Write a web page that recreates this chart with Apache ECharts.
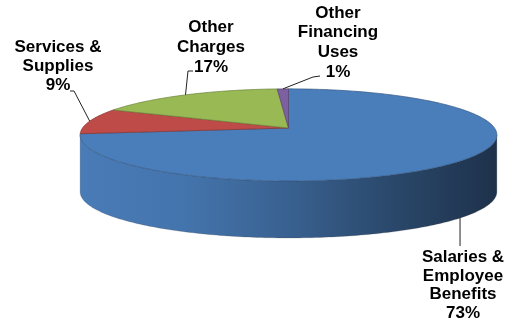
<!DOCTYPE html>
<html>
<head>
<meta charset="utf-8">
<script src="https://cdn.jsdelivr.net/npm/echarts@6/dist/echarts.min.js"></script>
<style>
  html, body { margin: 0; padding: 0; background: #fff; }
  #chart { width: 511px; height: 324px; }
</style>
</head>
<body>
<div id="chart"></div>
<script>
// Budget share by expenditure category (clockwise from 12 o'clock)
const categories = ['Salaries &\nEmployee\nBenefits', 'Services &\nSupplies', 'Other\nCharges', 'Other\nFinancing\nUses'];
const shares = [73, 9, 17, 1];
const colors = ['#4A7EBB', '#BE4B48', '#98B954', '#7D60A0'];

// Disc layout (pixels); persp makes the near edge of the disc look larger
const disc = { cx: 288.5, cy: 128, rx: 206, ry: 45, depth: 57, persp: 0.15 };
// Label text centre and the point where its leader line starts / bends
const labelLayout = [
  { x: 463, y: 285.5, lineHeight: 18.5, start: [null, 246], vertical: true },
  { x: 58, y: 66, lineHeight: 19, start: [70, 91], elbow: [74, 91] },
  { x: 211, y: 47, lineHeight: 20, start: [193, 71], elbow: [188, 71] },
  { x: 338, y: 42.5, lineHeight: 19.7, start: [320, 76], elbow: [313, 77] }
];

const total = shares.reduce((a, b) => a + b, 0);
const startAngles = [];
let acc = 0;
shares.forEach(v => { startAngles.push(acc / total * 360); acc += v; });

// Project a rim point (angle clockwise from top) of the tilted disc
function pt(deg, dy) {
  const r = deg * Math.PI / 180;
  const x = Math.sin(r), z = -Math.cos(r);
  const w = 1 - disc.persp * z;
  return [disc.cx + disc.rx * x / w, disc.cy + disc.ry * z / w + (dy || 0)];
}
function arc(a0, a1, dy) {
  const pts = [];
  const n = Math.max(2, Math.ceil(Math.abs(a1 - a0)));
  for (let i = 0; i <= n; i++) pts.push(pt(a0 + (a1 - a0) * i / n, dy));
  return pts;
}
function shade(hex, f) {
  const n = parseInt(hex.slice(1), 16);
  const c = [(n >> 16) & 255, (n >> 8) & 255, n & 255].map(v => Math.round(v * f));
  return 'rgb(' + c.join(',') + ')';
}

// Visible part of the rim wall lies between the two silhouette tangents
const sil = Math.acos(-disc.persp) * 180 / Math.PI;

function renderSide(params, api) {
  const i = params.dataIndex;
  const a0 = startAngles[i];
  const a1 = a0 + shares[i] / total * 360;
  const s = Math.max(a0, sil), e = Math.min(a1, 360 - sil);
  if (e <= s) return null;
  const top = arc(s, e, 0);
  const bottom = arc(e, s, disc.depth);
  const col = colors[i];
  return {
    type: 'polygon',
    shape: { points: top.concat(bottom) },
    style: {
      fill: new echarts.graphic.LinearGradient(disc.cx - disc.rx, 0, disc.cx + disc.rx, 0, [
        { offset: 0, color: shade(col, 0.98) },
        { offset: 0.25, color: shade(col, 0.92) },
        { offset: 0.5, color: shade(col, 0.77) },
        { offset: 0.75, color: shade(col, 0.57) },
        { offset: 1, color: shade(col, 0.4) }
      ], true),
      stroke: 'rgba(60,60,60,0.35)',
      lineWidth: 0.6
    }
  };
}

function renderTop(params, api) {
  const i = params.dataIndex;
  const a0 = startAngles[i];
  const a1 = a0 + shares[i] / total * 360;
  const pts = [[disc.cx, disc.cy]].concat(arc(a0, a1, 0));
  const mid = (a0 + a1) / 2;
  const front = -Math.cos(mid * Math.PI / 180) > disc.persp;
  const anchor = pt(mid, front ? disc.depth : 0);
  const lay = labelLayout[i];
  const line = lay.vertical
    ? [anchor, [anchor[0], lay.start[1]]]
    : [anchor, lay.elbow, lay.start];
  const pct = Math.round(shares[i] / total * 100) + '%';
  return {
    type: 'group',
    children: [
      {
        type: 'polygon',
        shape: { points: pts },
        style: { fill: colors[i], stroke: shade(colors[i], 0.7), lineWidth: 0.7 }
      },
      {
        type: 'polyline',
        shape: { points: line },
        style: { stroke: '#222', lineWidth: 1, fill: null }
      },
      {
        type: 'text',
        style: {
          text: categories[i] + '\n' + pct,
          x: lay.x, y: lay.y,
          align: 'center', verticalAlign: 'middle',
          font: 'bold 17px "Liberation Sans", Arial, sans-serif',
          lineHeight: lay.lineHeight,
          fill: '#000'
        }
      }
    ]
  };
}

const chart = echarts.init(document.getElementById('chart'), null, { renderer: 'canvas' });
chart.setOption({
  backgroundColor: '#fff',
  animation: false,
  series: [
    { type: 'custom', coordinateSystem: 'none', z: 1, data: shares, renderItem: renderSide, silent: true },
    { type: 'custom', coordinateSystem: 'none', z: 2, data: shares, renderItem: renderTop, silent: true }
  ]
});
</script>
</body>
</html>
